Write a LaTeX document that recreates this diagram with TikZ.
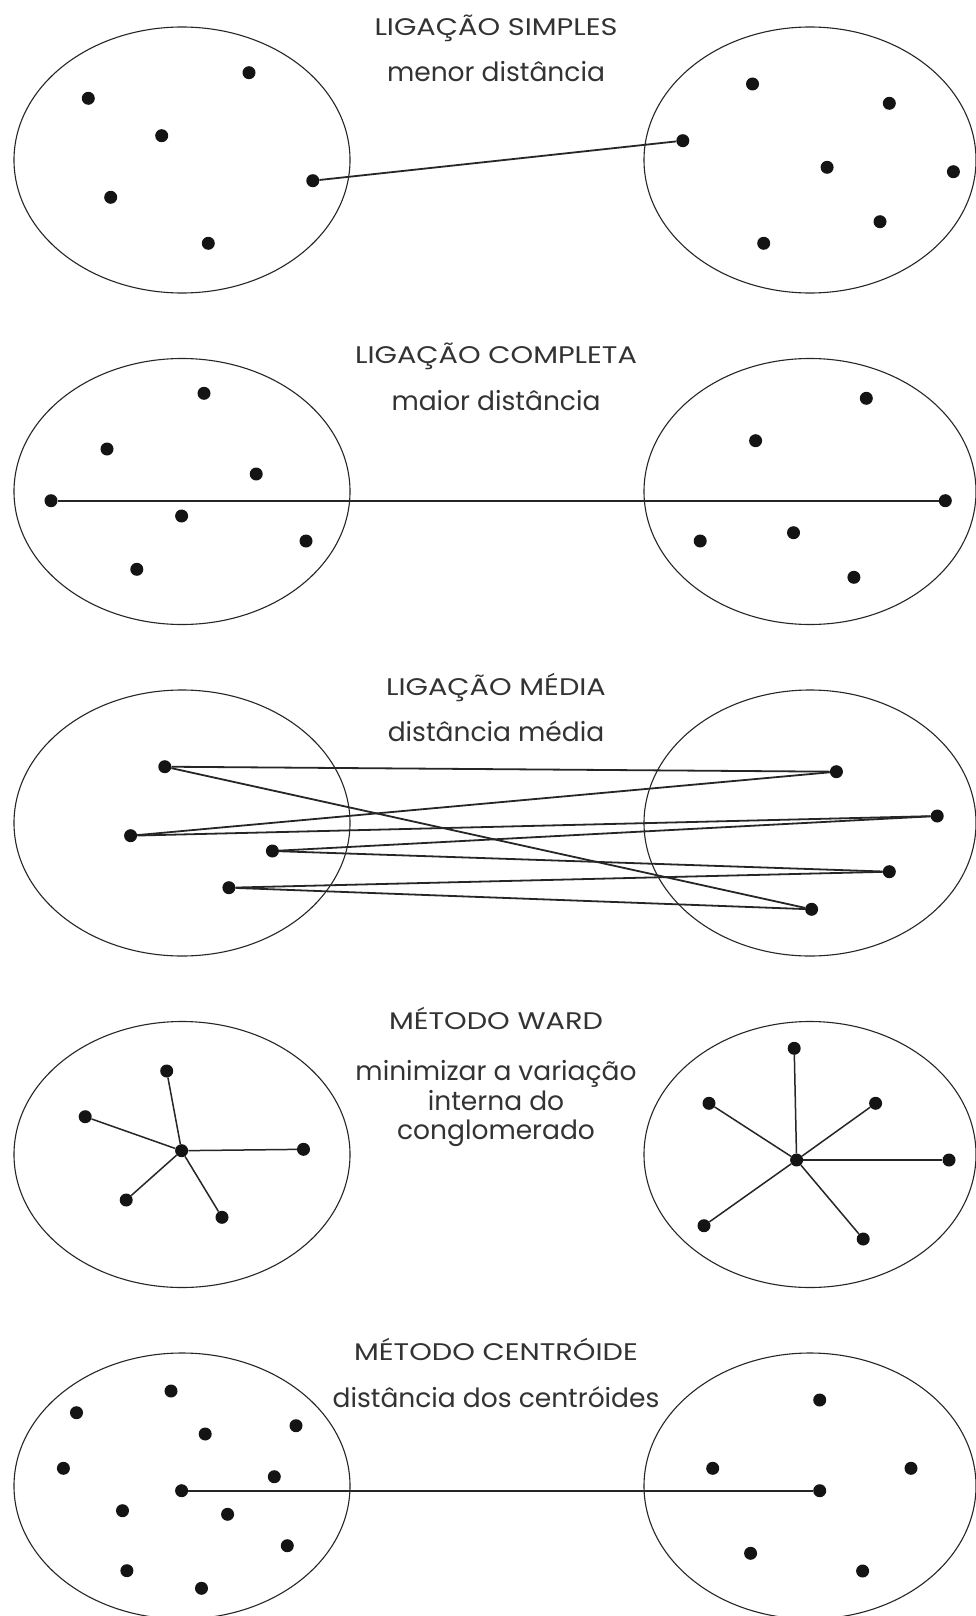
\documentclass[tikz,border=0pt]{standalone}
\usepackage{fontspec}
\setmainfont{Poppins}
\begin{document}
\begin{tikzpicture}[x=1pt,y=-1pt,
  dot/.style={circle,fill=black!92,inner sep=0pt,minimum size=13pt},
  group/.style={draw=black!85,line width=1.1pt},
  link/.style={draw=black!85,line width=1.8pt},
  spoke/.style={draw=black!85,line width=1.5pt},
  heading/.style={anchor=base,text=black!80,xscale=1.2,transform shape,
    font=\fontsize{24}{28}\selectfont},
  caption/.style={anchor=base,text=black!80,font=\fontsize{26.5}{30}\selectfont}]
\useasboundingbox[fill=white] (0,0) rectangle (975,1616);

% cluster outlines, five rows of two
\foreach \cy in {160,491.5,823,1154.5,1486}{
  \draw[group] (182,\cy) ellipse [x radius=168, y radius=133];
  \draw[group] (810,\cy) ellipse [x radius=166, y radius=133];
}

% ---- single linkage
\node[heading] (t1) at (496,35.5) {LIGAÇÃO SIMPLES};
\node[caption] (s1) at (496,81.5) {menor distância};
\node[dot] (a1) at (249,72.7) {};
\node[dot] (a2) at (88.3,98.3) {};
\node[dot] (a3) at (161.7,135.7) {};
\node[dot] (a4) at (312.8,180.7) {};
\node[dot] (a5) at (110.7,197.3) {};
\node[dot] (a6) at (208.3,243.3) {};
\node[dot] (b1) at (752.5,84) {};
\node[dot] (b2) at (889.3,103.3) {};
\node[dot] (b3) at (682.8,140.7) {};
\node[dot] (b4) at (827.1,167.3) {};
\node[dot] (b5) at (953.4,171.7) {};
\node[dot] (b6) at (880,221.7) {};
\node[dot] (b7) at (763.7,243.3) {};
\draw[link] (a4) -- (b3);

% ---- complete linkage
\node[heading] (t2) at (496,363.5) {LIGAÇÃO COMPLETA};
\node[caption] (s2) at (496,410.7) {maior distância};
\node[dot] (c1) at (204,393.3) {};
\node[dot] (c2) at (107,449) {};
\node[dot] (c3) at (256.2,474) {};
\node[dot] (c4) at (51,500.7) {};
\node[dot] (c5) at (181.6,516) {};
\node[dot] (c6) at (306,541) {};
\node[dot] (c7) at (136.8,569.3) {};
\node[dot] (d1) at (866.3,398.3) {};
\node[dot] (d2) at (755.6,440.7) {};
\node[dot] (d3) at (945.3,500.7) {};
\node[dot] (d4) at (700.2,541) {};
\node[dot] (d5) at (793.5,532.7) {};
\node[dot] (d6) at (853.9,577.3) {};
\draw[link] (c4) -- (d3);

% ---- average linkage
\node[heading] (t3) at (496,695) {LIGAÇÃO MÉDIA};
\node[caption] (s3) at (496,741.7) {distância média};
\node[dot] (e1) at (164.8,766.7) {};
\node[dot] (e2) at (130.6,835.7) {};
\node[dot] (e3) at (272.4,851) {};
\node[dot] (e4) at (228.9,887.7) {};
\node[dot] (f1) at (836.4,771.7) {};
\node[dot] (f2) at (937.2,816) {};
\node[dot] (f3) at (889.3,871.7) {};
\node[dot] (f4) at (811.6,909.3) {};
\draw[link] (e1) -- (f1);
\draw[link] (e1) -- (f4);
\draw[link] (e2) -- (f1);
\draw[link] (e2) -- (f2);
\draw[link] (e3) -- (f2);
\draw[link] (e3) -- (f3);
\draw[link] (e4) -- (f3);
\draw[link] (e4) -- (f4);

% ---- Ward's method
\node[heading] (t4) at (496,1029.5) {MÉTODO WARD};
\node[caption] (s4a) at (496,1080) {minimizar a variação};
\node[caption] (s4b) at (496,1110.5) {interna do};
\node[caption] (s4c) at (496,1139.5) {conglomerado};
\node[dot] (g0) at (181.6,1150.7) {};
\node[dot] (g1) at (166.7,1071) {};
\node[dot] (g2) at (85.2,1116.7) {};
\node[dot] (g3) at (303.5,1149.3) {};
\node[dot] (g4) at (126.2,1200) {};
\node[dot] (g5) at (222,1217.3) {};
\foreach \p in {g1,g2,g3,g4,g5} \draw[spoke] (g0) -- (\p);
\node[dot] (h0) at (796.6,1160) {};
\node[dot] (h1) at (794.2,1048.3) {};
\node[dot] (h2) at (709,1103.3) {};
\node[dot] (h3) at (875.6,1103.3) {};
\node[dot] (h4) at (949,1160) {};
\node[dot] (h5) at (704,1225.7) {};
\node[dot] (h6) at (863.2,1239) {};
\foreach \p in {h1,h2,h3,h4,h5,h6} \draw[spoke] (h0) -- (\p);

% ---- centroid method
\node[heading] (t5) at (496,1360) {MÉTODO CENTRÓIDE};
\node[caption] (s5) at (496,1407.5) {distância dos centróides};
\node[dot] (k1) at (171,1391) {};
\node[dot] (k2) at (76.5,1412.7) {};
\node[dot] (k3) at (205.2,1434) {};
\node[dot] (k4) at (296,1425.7) {};
\node[dot] (k5) at (63.4,1468.3) {};
\node[dot] (k6) at (274.3,1476.7) {};
\node[dot] (k0) at (181.6,1490.7) {};
\node[dot] (k7) at (122.5,1510.7) {};
\node[dot] (k8) at (227.6,1514.3) {};
\node[dot] (k9) at (287.3,1545.7) {};
\node[dot] (k10) at (126.9,1570.7) {};
\node[dot] (k11) at (201.5,1588.3) {};
\node[dot] (m1) at (819.7,1400) {};
\node[dot] (m2) at (712.7,1468.3) {};
\node[dot] (m3) at (911,1468.3) {};
\node[dot] (m0) at (819.7,1490.7) {};
\node[dot] (m4) at (750.6,1553.3) {};
\node[dot] (m5) at (862.6,1571) {};
\draw[link] (k0) -- (m0);
\end{tikzpicture}
\end{document}
